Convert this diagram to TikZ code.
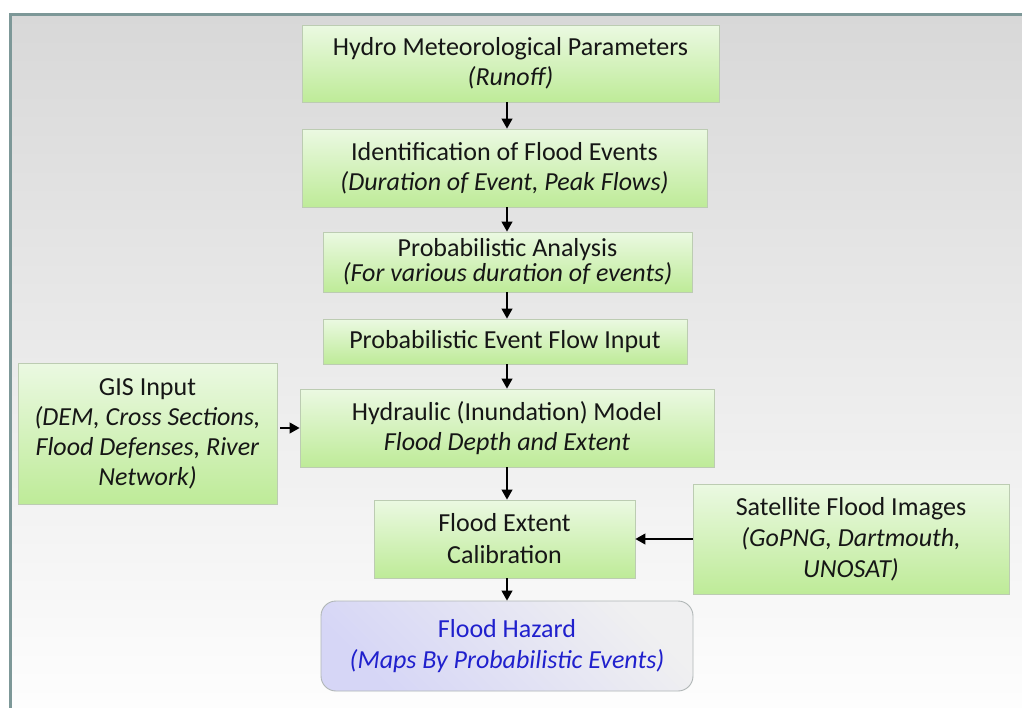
\documentclass[tikz,border=0pt]{standalone}
\usepackage{fontspec}
\setmainfont{Carlito}
\usetikzlibrary{arrows.meta,shadings}

\definecolor{frameline}{RGB}{125,152,152}
\definecolor{bgtop}{RGB}{216,216,216}
\definecolor{bgbot}{RGB}{254,254,254}
\definecolor{boxtop}{RGB}{235,249,226}
\definecolor{boxbot}{RGB}{190,235,152}
\definecolor{boxedge}{RGB}{188,204,178}
\definecolor{hazgray}{RGB}{240,240,241}
\definecolor{hazlav}{RGB}{214,214,246}
\definecolor{hazedge}{RGB}{176,182,182}
\definecolor{hazblue}{RGB}{32,32,205}
\definecolor{inktext}{RGB}{22,22,22}

\tikzset{
  stepbox/.style={draw=boxedge, line width=0.9pt, top color=boxtop, bottom color=boxbot,
    inner sep=0pt, align=center, text=inktext,
    font=\fontsize{26}{30}\selectfont},
  hazbox/.style={draw=hazedge, line width=0.9pt, rounded corners=15pt,
    top color=hazgray, bottom color=hazlav, shading angle=-45,
    inner sep=0pt, align=center, text=hazblue,
    font=\fontsize{26}{31}\selectfont},
  flow/.style={line width=1.1pt, draw=black,
    -{Triangle[width=11pt,length=10pt]}},
}

\begin{document}
\begin{tikzpicture}[x=1pt,y=-1pt]
  \useasboundingbox (0,0) rectangle (1022,707);
  \clip (0,0) rectangle (1022,707);

  % page background and framed panel
  \fill[white] (0,0) rectangle (1022,707);
  \shade[top color=bgtop, bottom color=bgbot] (10,14.5) rectangle (1040,720);
  \draw[frameline, line width=3.2pt] (10.5,720) -- (10.5,14.5) -- (1040,14.5);

  % vertical spine of the main chain
  \coordinate (spine) at (507,0);

  % process steps
  \node[stepbox, minimum width=417pt, minimum height=77pt] (hydro) at (510.5,63.5)
    {Hydro Meteorological Parameters\\\textit{(Runoff)}};
  \node[stepbox, minimum width=405pt, minimum height=78pt] (ident) at (504.5,168)
    {Identification of Flood Events\\\textit{(Duration of Event, Peak Flows)}};
  \node[stepbox, minimum width=369pt, minimum height=60pt,
        font=\fontsize{26}{25}\selectfont] (prob) at (507.5,262)
    {Probabilistic Analysis\\\textit{(For various duration of events)}};
  \node[stepbox, minimum width=364pt, minimum height=45pt] (pefi) at (505,341.5)
    {Probabilistic Event Flow Input};
  \node[stepbox, minimum width=414pt, minimum height=78pt] (hyd) at (507,428)
    {Hydraulic (Inundation) Model\\\textit{Flood Depth and Extent}};
  \node[stepbox, minimum width=259pt, minimum height=141pt] (gis) at (147.5,433.5)
    {GIS Input\\\textit{(DEM, Cross Sections,}\\\textit{Flood Defenses, River}\\\textit{Network)}};
  \node[stepbox, minimum width=261pt, minimum height=78pt, font=\fontsize{26}{32}\selectfont]
    (calib) at (504.5,539)
    {Flood Extent\\Calibration};
  \node[stepbox, minimum width=316pt, minimum height=110pt, font=\fontsize{26}{31}\selectfont]
    (sat) at (851,539)
    {Satellite Flood Images\\\textit{(GoPNG, Dartmouth,}\\\textit{UNOSAT)}};
  \node[hazbox, minimum width=372pt, minimum height=90pt] (haz) at (507,646)
    {Flood Hazard\\\textit{(Maps By Probabilistic Events)}};

  % connectors
  \draw[flow] (hydro.south -| spine) -- (ident.north -| spine);
  \draw[flow] (ident.south -| spine) -- (prob.north -| spine);
  \draw[flow] (prob.south -| spine) -- (pefi.north -| spine);
  \draw[flow] (pefi.south -| spine) -- (hyd.north -| spine);
  \draw[flow] (hyd.south -| spine) -- (calib.north -| spine);
  \draw[flow] (calib.south -| spine) -- (haz.north -| spine);
  \draw[flow, shorten <=3pt] (gis.east |- hyd.west) -- (hyd.west);
  \draw[flow] (sat.west) -- (calib.east);
\end{tikzpicture}
\end{document}
